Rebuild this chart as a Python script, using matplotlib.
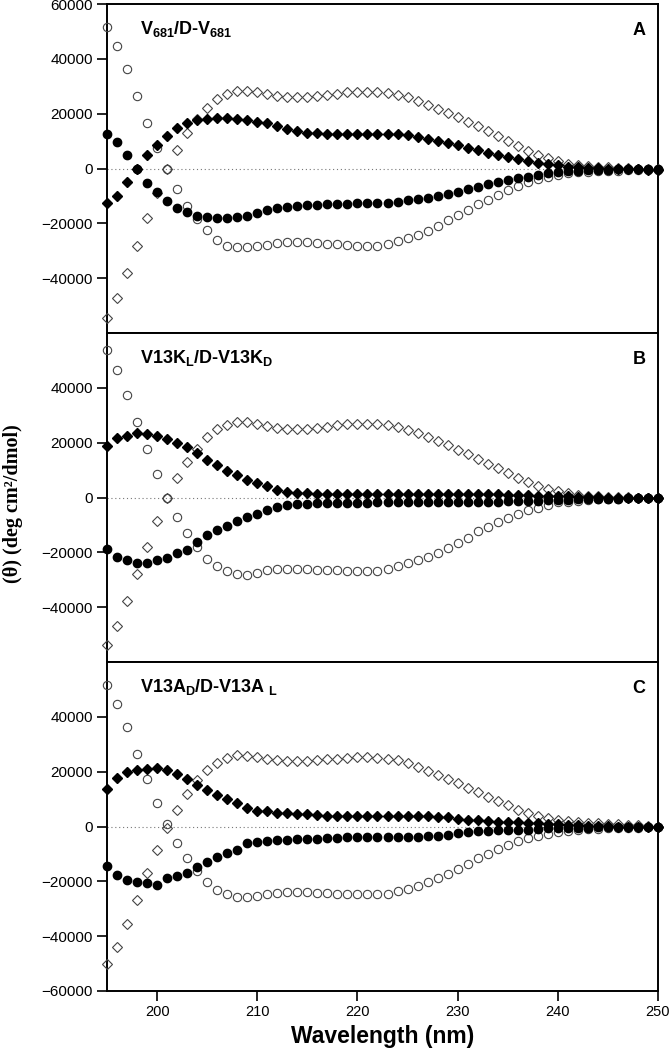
import matplotlib
matplotlib.use('Agg')
import matplotlib.pyplot as plt

plt.rcParams['font.family'] = ['Liberation Sans', 'DejaVu Sans']
plt.rcParams['mathtext.fontset'] = 'custom'
plt.rcParams['mathtext.rm'] = 'Liberation Sans:bold'
plt.rcParams['mathtext.it'] = 'Liberation Sans:bold'
plt.rcParams['mathtext.bf'] = 'Liberation Sans:bold'

# wavelength 195..250 nm, one point per nm
wl = list(range(195, 251))

# panel A  V681 / D-V681
oc_A = [51500, 44500, 36300, 26300, 16600, 7500, 0, -7500, -13800, -18600,
        -22400, -25900, -28100, -28800, -28800, -28400, -27800, -27200, -26900, -26900,
        -26900, -27100, -27400, -27700, -28000, -28200, -28400, -28400, -27700, -26400,
        -25400, -24200, -22800, -21000, -18900, -17000, -15000, -13100, -11400, -9500,
        -8000, -6500, -4900, -4000, -3200, -2400, -1800, -1450, -1200, -1000,
        -900, -800, -700, -600, -550, -500]
fc_A = [12500, 9800, 5000, 0, -5200, -8700, -11800, -14500, -16000, -17200,
        -17800, -18200, -18200, -17800, -17400, -16400, -15200, -14500, -13900, -13600,
        -13300, -13200, -13100, -12900, -12800, -12700, -12700, -12700, -12600, -12300,
        -11600, -11000, -10700, -10100, -9200, -8500, -7600, -6700, -5600, -4800,
        -4200, -3600, -3000, -2400, -1800, -1300, -1000, -800, -600, -500,
        -400, -300, -300, -200, -200, -100]
fd_A = [-12600, -10200, -5100, 0, 5100, 8600, 11800, 14700, 16500, 17700,
        18200, 18300, 18300, 18200, 17600, 17000, 16500, 15500, 14300, 13600,
        13100, 12800, 12700, 12700, 12700, 12700, 12700, 12700, 12700, 12600,
        12300, 11600, 10900, 10200, 9300, 8500, 7500, 6700, 5700, 5100,
        4100, 3400, 2700, 2100, 1500, 1100, 700, 400, 200, 100,
        0, -100, -200, -300, -400, -500]
od_A = [-54400, -47300, -38100, -28100, -18200, -9000, 0, 6800, 12800, 18200,
        21900, 25200, 27300, 28200, 28200, 27900, 27000, 26400, 26100, 26100,
        26100, 26300, 26700, 27200, 27800, 28000, 28000, 27800, 27400, 26900,
        25900, 24700, 23300, 21700, 20200, 18700, 17000, 15400, 13600, 11800,
        9900, 8100, 6500, 5100, 3900, 2700, 1800, 1200, 900, 600,
        400, 200, 100, 0, -100, -200]

# panel B  V13KL / D-V13KD
oc_B = [53700, 46600, 37400, 27700, 17700, 8400, 0, -7100, -12800, -18000,
        -22300, -25000, -26800, -27800, -28200, -27600, -26600, -26200, -26000, -26000,
        -26100, -26300, -26500, -26600, -26800, -26900, -26900, -26800, -25900, -25000,
        -24000, -22900, -21700, -20100, -18300, -16500, -14600, -12400, -10700, -9100,
        -7600, -6100, -4600, -3700, -2700, -1800, -1500, -1100, -850, -700,
        -600, -400, -350, -300, -250, -200]
fc_B = [-18900, -21700, -22700, -23800, -23800, -22900, -22000, -20200, -19000, -16200,
        -13800, -12000, -10500, -8700, -7100, -5900, -4600, -3400, -2800, -2400,
        -2200, -2100, -2000, -1900, -1900, -1900, -1900, -1800, -1800, -1800,
        -1800, -1800, -1700, -1700, -1700, -1700, -1700, -1700, -1600, -1500,
        -1400, -1300, -1200, -1100, -1000, -900, -800, -700, -600, -500,
        -400, -400, -300, -300, -300, -300]
fd_B = [18900, 21600, 22400, 23400, 23000, 22400, 21300, 19800, 18300, 16100,
        13700, 11800, 9800, 8200, 6300, 5400, 4100, 2900, 2100, 1700,
        1500, 1300, 1300, 1300, 1300, 1300, 1300, 1300, 1300, 1300,
        1300, 1300, 1300, 1200, 1200, 1200, 1200, 1200, 1200, 1100,
        1000, 900, 800, 700, 600, 500, 400, 300, 200, 100,
        0, -100, -100, -200, -200, -300]
od_B = [-53700, -46700, -37800, -27800, -18000, -8700, 0, 7000, 12800, 17700,
        22000, 24900, 26500, 27700, 27700, 26800, 26100, 25500, 25000, 25000,
        25000, 25200, 25800, 26300, 26700, 26900, 26900, 26700, 26300, 25600,
        24600, 23400, 22200, 20700, 19100, 17500, 15800, 14200, 12400, 10600,
        8800, 7000, 5500, 4200, 3100, 2200, 1500, 1000, 700, 500,
        300, 200, 100, 0, -100, -200]

# panel C  V13AD / D-V13AL
oc_C = [51500, 44800, 36200, 26500, 17400, 8700, 1000, -5900, -11600, -16400,
        -20100, -23000, -24800, -25600, -25800, -25400, -24800, -24200, -24000, -24000,
        -24000, -24200, -24400, -24500, -24700, -24800, -24800, -24800, -24500, -23600,
        -22800, -21600, -20400, -18800, -17200, -15400, -13600, -11500, -9900, -8200,
        -6800, -5200, -4200, -3300, -2700, -2100, -1600, -1200, -1000, -850,
        -700, -600, -500, -400, -350, -300]
fc_C = [-14300, -17600, -19500, -20100, -20700, -21300, -18900, -17900, -17100, -14700,
        -13100, -11300, -9500, -8600, -6200, -5600, -5200, -5000, -4800, -4700,
        -4600, -4400, -4200, -4100, -4000, -4000, -4000, -4000, -4000, -3900,
        -3900, -3800, -3600, -3300, -3000, -2400, -1900, -1800, -1800, -1300,
        -1200, -1200, -1100, -900, -700, -700, -600, -500, -400, -300,
        -300, -200, -200, -200, -200, -200]
fd_C = [13600, 17600, 19900, 20600, 21100, 21500, 20500, 19000, 17200, 15200,
        13300, 11500, 9900, 8500, 6900, 5500, 5500, 5000, 4800, 4700,
        4500, 4100, 3900, 4000, 4000, 4000, 4000, 4000, 4000, 4000,
        4000, 3900, 3800, 3600, 3300, 2700, 2200, 2200, 2100, 1700,
        1500, 1500, 1400, 1200, 900, 800, 600, 500, 300, 200,
        100, 0, 0, -100, -100, -200]
od_C = [-50100, -43800, -35500, -26700, -17100, -8500, -600, 6100, 12000, 17000,
        20500, 23300, 25100, 26100, 25700, 25300, 24800, 24200, 23900, 23900,
        23900, 24100, 24500, 24800, 25000, 25200, 25200, 25000, 24700, 24200,
        23000, 21800, 20200, 18800, 17300, 15800, 14200, 12700, 10900, 9300,
        7900, 6100, 4800, 3900, 3000, 2400, 1900, 1600, 1300, 1200,
        1000, 800, 600, 400, 200, 0]

titles = [r'V$_{681}$/D-V$_{681}$', r'V13K$_{L}$/D-V13K$_{D}$', r'V13A$_{D}$/D-V13A $_{L}$']
letters = ['A', 'B', 'C']
yticks_list = [[60000, 40000, 20000, 0, -20000, -40000],
               [40000, 20000, 0, -20000, -40000],
               [40000, 20000, 0, -20000, -40000, -60000]]
xticks = [200, 210, 220, 230, 240, 250]

panels = [(oc_A, fc_A, fd_A, od_A), (oc_B, fc_B, fd_B, od_B), (oc_C, fc_C, fd_C, od_C)]

fig = plt.figure(figsize=(6.71, 10.5), dpi=100)
left, width, h = 107 / 671, 551 / 671, 329 / 1050
tops = [4, 333, 662]

for i, (oc, fc, fd, od) in enumerate(panels):
    ax = fig.add_axes([left, 1 - (tops[i] + 329) / 1050, width, h])
    ax.plot([195, 250], [0, 0], color='#777777', lw=0.8, ls=(0, (1, 2.5)), zorder=1)
    # open symbols first, filled on top
    ax.plot(wl, oc, 'o', ms=6.0, mfc='none', mec='#444444', mew=0.8, clip_on=False, zorder=3)
    ax.plot(wl, od, 'D', ms=5.2, mfc='none', mec='#444444', mew=0.8, clip_on=False, zorder=3)
    ax.plot(wl, fc, 'o', ms=6.0, color='black', clip_on=False, zorder=4)
    ax.plot(wl, fd, 'D', ms=5.2, color='black', clip_on=False, zorder=4)

    ax.set_xlim(195, 250)
    ax.set_ylim(-60000, 60000)
    ax.set_yticks(yticks_list[i])
    ax.set_yticklabels([str(t).replace('-', '\u2212') for t in yticks_list[i]], fontsize=11)
    ax.tick_params(axis='y', direction='out', length=7, width=1.2, pad=3)
    if i == 2:
        ax.set_xticks(xticks)
        ax.set_xticklabels([str(t) for t in xticks], fontsize=10.5)
        ax.tick_params(axis='x', direction='out', length=7, width=1.2, pad=3)
    else:
        ax.set_xticks([])
    for s in ax.spines.values():
        s.set_linewidth(1.4)

    ax.text(0.06, 0.91, titles[i], transform=ax.transAxes, fontsize=13,
            fontweight='bold', va='baseline', ha='left')
    ax.text(0.977, 0.905, letters[i], transform=ax.transAxes, fontsize=13,
            fontweight='bold', va='baseline', ha='right')

fig.text(0.019, 0.52, '(\u03b8) (deg cm\u00b2/dmol)', rotation=90, ha='center', va='center',
         fontsize=14.5, fontweight='bold', family=['Liberation Serif', 'DejaVu Serif'])
fig.text(left + width / 2, 1 - 1043 / 1050, 'Wavelength (nm)', ha='center', va='baseline',
         fontsize=16.5, fontweight='bold')

fig.savefig('out.png', dpi=100)
